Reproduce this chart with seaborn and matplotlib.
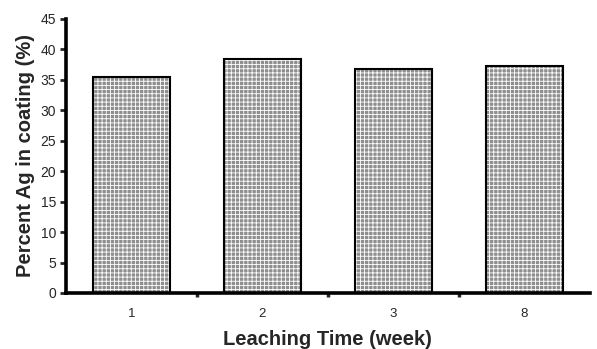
import matplotlib
matplotlib.use("Agg")
from matplotlib import pyplot as plt
import seaborn as sns
import numpy as np
import pandas as pd

weeks = ["1", "2", "3", "8"]
percent_ag = [35.4, 38.5, 36.8, 37.3]
y_ticks = [0, 5, 10, 15, 20, 25, 30, 35, 40, 45]

sns.set_style("white")
plt.rcParams["font.family"] = ["Liberation Sans", "DejaVu Sans"]
plt.rcParams["hatch.linewidth"] = 0.6

df = pd.DataFrame({"week": weeks, "pct": percent_ag})

fig = plt.figure(figsize=(5.97, 3.49), dpi=100)
ax = fig.add_axes([0.1106, 0.1605, 0.8774, 0.7851])

# stippled fill first, then the black outline on top
sns.barplot(data=df, x="week", y="pct", color="#8f8f8f", width=0.59,
            saturation=1, edgecolor="white", linewidth=0, ax=ax)
for p in ax.patches:
    p.set_hatch("++++")
sns.barplot(data=df, x="week", y="pct", fill=False, width=0.59,
            edgecolor="black", linewidth=1.5, ax=ax)

ax.set_xlim(-0.5, 3.5)
ax.set_ylim(0, 45)
ax.set_yticks(y_ticks)
ax.set_yticklabels([str(t) for t in y_ticks], fontsize=10)
ax.tick_params(axis="y", direction="out", length=4, width=2, pad=3, left=True)
ax.tick_params(axis="x", which="major", length=0, pad=11, labelsize=9.5)
ax.set_xticks([0.5, 1.5, 2.5], minor=True)
ax.tick_params(axis="x", which="minor", direction="out", length=3, width=2.5, bottom=True)

for side in ["top", "right"]:
    ax.spines[side].set_visible(False)
for side in ["left", "bottom"]:
    ax.spines[side].set_linewidth(2.6)
    ax.spines[side].set_color("black")

ax.set_xlabel("Leaching Time (week)", fontsize=14.5, fontweight="bold", labelpad=7)
ax.set_ylabel("Percent Ag in coating (%)", fontsize=14.5, fontweight="bold", labelpad=4)

fig.savefig("out.png", dpi=100)
